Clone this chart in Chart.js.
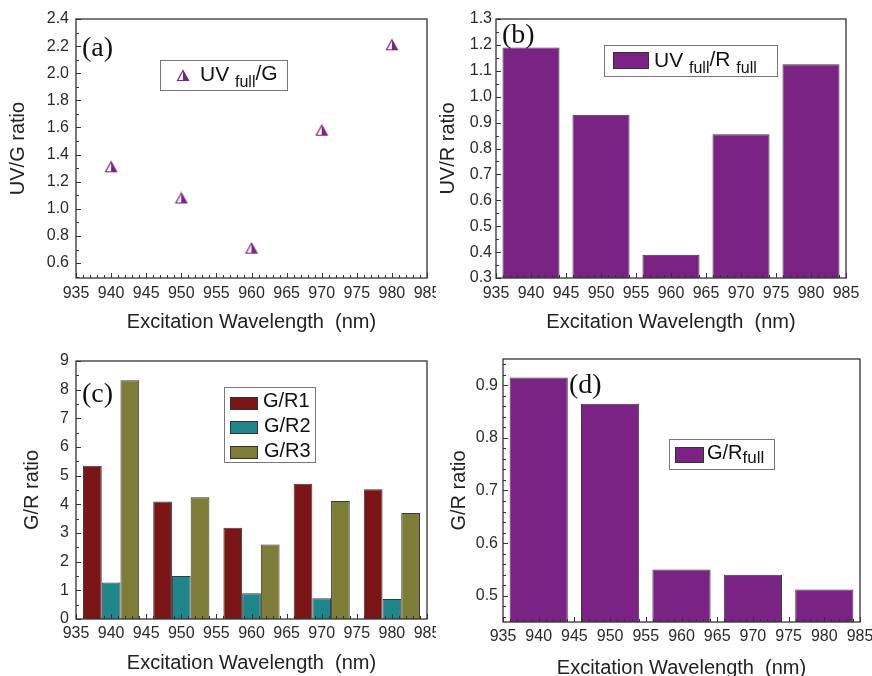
<!DOCTYPE html>
<html>
<head>
<meta charset="utf-8">
<script src="https://cdn.jsdelivr.net/npm/chart.js@4.4.1/dist/chart.umd.min.js"></script>
<style>
  html, body { margin: 0; padding: 0; background: #fff; overflow: hidden; }
  body { width: 872px; height: 676px; position: relative; }
  canvas { position: absolute; background: #fff; }
  #chartA { left: 0; top: 0; z-index: 1; }
  #chartB { left: 436px; top: 0; z-index: 2; }
  #chartC { left: 0; top: 340px; z-index: 1; }
  #chartD { left: 436px; top: 340px; z-index: 2; }
</style>
</head>
<body>
<canvas id="chartA" width="450" height="340"></canvas>
<canvas id="chartB" width="450" height="340"></canvas>
<canvas id="chartC" width="450" height="336"></canvas>
<canvas id="chartD" width="450" height="350"></canvas>
<script>
// values
const wavelengths = [940, 950, 960, 970, 980];
const xTickValues = [935, 940, 945, 950, 955, 960, 965, 970, 975, 980, 985];

const uvGRatio = [1.31, 1.08, 0.71, 1.58, 2.21];
const uvGTicks = [0.6, 0.8, 1.0, 1.2, 1.4, 1.6, 1.8, 2.0, 2.2, 2.4];

const uvRRatio = [1.19, 0.93, 0.39, 0.855, 1.125];
const uvRTicks = [0.3, 0.4, 0.5, 0.6, 0.7, 0.8, 0.9, 1.0, 1.1, 1.2, 1.3];

const gR1 = [5.35, 4.1, 3.18, 4.72, 4.53];
const gR2 = [1.27, 1.5, 0.9, 0.72, 0.7];
const gR3 = [8.33, 4.25, 2.6, 4.12, 3.7];
const gRTicks = [0, 1, 2, 3, 4, 5, 6, 7, 8, 9];

const gRFull = [0.915, 0.865, 0.55, 0.54, 0.512];
const gRFullTicks = [0.5, 0.6, 0.7, 0.8, 0.9];

const PURPLE = "#7a2385";
const DARK_RED = "#7b1517";
const TEAL = "#1f878b";
const OLIVE = "#7e7d38";
const TEXT = "#2a2a2a";
const SANS = "'Liberation Sans', Arial, sans-serif";
const SERIF = "'Liberation Serif', 'Times New Roman', serif";

function toPoints(values) {
  return wavelengths.map((w, i) => ({ x: w, y: values[i] }));
}

// half filled triangle marker
function makeTriangle() {
  const c = document.createElement("canvas");
  c.width = 14;
  c.height = 13;
  const g = c.getContext("2d");
  g.fillStyle = PURPLE;
  g.beginPath();
  g.moveTo(7, 1.5);
  g.lineTo(7, 11.5);
  g.lineTo(12.5, 11.5);
  g.closePath();
  g.fill();
  g.strokeStyle = PURPLE;
  g.lineWidth = 1.2;
  g.beginPath();
  g.moveTo(7, 1.5);
  g.lineTo(1.5, 11.5);
  g.lineTo(12.5, 11.5);
  g.closePath();
  g.stroke();
  return c;
}
const triangle = makeTriangle();

// frame, inward ticks, panel letter and boxed legend
const panelDecor = {
  id: "panelDecor",
  afterDraw(chart, args, opts) {
    const ctx = chart.ctx;
    const a = chart.chartArea;
    const xs = chart.scales.x;
    const ys = chart.scales.y;
    ctx.save();
    ctx.strokeStyle = "#333";
    ctx.lineWidth = 1;
    ctx.beginPath();
    drawTicks(xs, opts.xMinor, opts.xMajor, (p, len) => {
      ctx.moveTo(p, a.bottom);
      ctx.lineTo(p, a.bottom - len);
    });
    drawTicks(ys, opts.yMinor, opts.yMajor, (p, len) => {
      ctx.moveTo(a.left, p);
      ctx.lineTo(a.left + len, p);
    });
    ctx.stroke();

    ctx.lineWidth = 1.3;
    ctx.strokeRect(a.left, a.top, a.right - a.left, a.bottom - a.top);

    ctx.fillStyle = "#111";
    ctx.font = "28px " + SERIF;
    ctx.textBaseline = "alphabetic";
    ctx.fillText(opts.label, opts.labelX, opts.labelY);

    const lg = opts.legend;
    ctx.strokeStyle = "#777";
    ctx.lineWidth = 1;
    ctx.strokeRect(lg.box[0] + 0.5, lg.box[1] + 0.5, lg.box[2], lg.box[3]);
    lg.items.forEach((item) => {
      if (item.marker === "triangle") {
        ctx.drawImage(triangle, item.mx - 7, item.my - 6);
      } else {
        ctx.fillStyle = item.color;
        ctx.fillRect(item.swatch[0], item.swatch[1], item.swatch[2], item.swatch[3]);
        ctx.strokeStyle = "#333";
        ctx.strokeRect(item.swatch[0] + 0.5, item.swatch[1] + 0.5, item.swatch[2] - 1, item.swatch[3] - 1);
      }
      let x = item.tx;
      ctx.fillStyle = "#111";
      item.parts.forEach(([text, size, shift]) => {
        ctx.font = size + "px " + SANS;
        ctx.fillText(text, x, item.ty + shift);
        x += ctx.measureText(text).width;
      });
    });
    ctx.restore();
  },
};

function drawTicks(scale, minor, major, fn) {
  const start = Math.ceil(scale.min / minor - 1e-6);
  const end = Math.floor(scale.max / minor + 1e-6);
  for (let i = start; i <= end; i++) {
    const v = i * minor;
    const isMajor = Math.abs(v / major - Math.round(v / major)) < 1e-6;
    const p = Math.round(scale.getPixelForValue(v)) + 0.5;
    fn(p, isMajor ? 5 : 3);
  }
}

function xScale(height, pad, titlePad) {
  return {
    type: "linear",
    min: 935,
    max: 985,
    offset: false,
    afterBuildTicks: (s) => {
      s.ticks = xTickValues.map((v) => ({ value: v }));
    },
    afterFit: (s) => {
      s.height = height;
    },
    ticks: {
      font: { family: SANS, size: 16 },
      color: TEXT,
      padding: pad,
      maxRotation: 0,
      autoSkip: false,
    },
    grid: { display: false, drawTicks: false },
    border: { display: false },
    title: {
      display: true,
      text: "Excitation Wavelength  (nm)",
      font: { family: SANS, size: 20 },
      color: "#222",
      padding: { top: 0, bottom: titlePad },
    },
  };
}

function yScale(min, max, tickValues, digits, width, pad, title, titlePad) {
  return {
    type: "linear",
    min: min,
    max: max,
    afterBuildTicks: (s) => {
      s.ticks = tickValues.map((v) => ({ value: v }));
    },
    afterFit: (s) => {
      s.width = width;
    },
    ticks: {
      font: { family: SANS, size: 16 },
      color: TEXT,
      padding: pad,
      callback: (v) => Number(v).toFixed(digits),
    },
    grid: { display: false, drawTicks: false },
    border: { display: false },
    title: {
      display: true,
      text: title,
      font: { family: SANS, size: 20 },
      color: "#222",
      padding: { top: titlePad, bottom: 0 },
    },
  };
}

function baseOptions(padding, scales, decor) {
  return {
    responsive: false,
    animation: false,
    layout: { padding: padding },
    scales: scales,
    plugins: {
      legend: { display: false },
      tooltip: { enabled: false },
      panelDecor: decor,
    },
  };
}

Chart.register(panelDecor);

// the bar ruler also counts the 5 nm tick spacing, so widths are given relative to 5 nm
new Chart(document.getElementById("chartA"), {
  type: "scatter",
  data: {
    datasets: [
      {
        label: "UV full/G",
        data: toPoints(uvGRatio),
        pointStyle: triangle,
        showLine: false,
      },
    ],
  },
  options: baseOptions(
    { top: 19, right: 23, left: 0, bottom: 0 },
    {
      x: xScale(62, 6, 6),
      y: yScale(0.49, 2.4, uvGTicks, 1, 76, 7, "UV/G ratio", 6),
    },
    {
      label: "(a)", labelX: 82, labelY: 56,
      xMinor: 1, xMajor: 5, yMinor: 0.1, yMajor: 0.2,
      legend: {
        box: [160, 60, 127, 30],
        items: [
          {
            marker: "triangle", mx: 183, my: 75, tx: 200, ty: 81,
            parts: [["UV ", 21, 0], ["full", 16, 6], ["/G", 21, -1]],
          },
        ],
      },
    }
  ),
});

new Chart(document.getElementById("chartB"), {
  type: "bar",
  data: {
    datasets: [
      {
        label: "UV full/R full",
        data: toPoints(uvRRatio),
        backgroundColor: PURPLE,
        borderColor: "#3a3a3a",
        borderWidth: 1,
        barPercentage: 1.63,
        categoryPercentage: 1,
      },
    ],
  },
  options: baseOptions(
    { top: 19, right: 40, left: 0, bottom: 0 },
    {
      x: xScale(62, 6, 6),
      y: yScale(0.3, 1.3, uvRTicks, 1, 60, 4, "UV/R ratio", 0),
    },
    {
      label: "(b)", labelX: 66, labelY: 43,
      xMinor: 1, xMajor: 5, yMinor: 0.05, yMajor: 0.1,
      legend: {
        box: [168, 45, 173, 31],
        items: [
          {
            color: PURPLE, swatch: [177, 52, 36, 17], tx: 218, ty: 67,
            parts: [["UV ", 21, 0], ["full", 16, 6], ["/R ", 21, -1], ["full", 16, 6]],
          },
        ],
      },
    }
  ),
});

new Chart(document.getElementById("chartC"), {
  type: "bar",
  data: {
    datasets: [
      { label: "G/R1", data: toPoints(gR1), backgroundColor: DARK_RED },
      { label: "G/R2", data: toPoints(gR2), backgroundColor: TEAL },
      { label: "G/R3", data: toPoints(gR3), backgroundColor: OLIVE },
    ].map((d) => ({
      ...d,
      borderColor: "#3a3a3a",
      borderWidth: 1,
      barPercentage: 1,
      categoryPercentage: 1.6,
    })),
  },
  options: baseOptions(
    { top: 21, right: 23, left: 0, bottom: 0 },
    {
      x: xScale(57, 5, 1),
      y: yScale(0, 9, gRTicks, 0, 76, 7, "G/R ratio", 20),
    },
    {
      label: "(c)", labelX: 82, labelY: 62,
      xMinor: 1, xMajor: 5, yMinor: 0.5, yMajor: 1,
      legend: {
        box: [224, 47, 91, 75],
        items: [
          { color: DARK_RED, swatch: [230, 57, 28, 13], tx: 263, ty: 67, parts: [["G/R1", 20, 0]] },
          { color: TEAL, swatch: [230, 81, 28, 13], tx: 264, ty: 92, parts: [["G/R2", 20, 0]] },
          { color: OLIVE, swatch: [230, 106, 28, 13], tx: 264, ty: 117, parts: [["G/R3", 20, 0]] },
        ],
      },
    }
  ),
});

new Chart(document.getElementById("chartD"), {
  type: "bar",
  data: {
    datasets: [
      {
        label: "G/R full",
        data: toPoints(gRFull),
        backgroundColor: PURPLE,
        borderColor: "#3a3a3a",
        borderWidth: 1,
        barPercentage: 1.63,
        categoryPercentage: 1,
      },
    ],
  },
  options: baseOptions(
    { top: 19, right: 26, left: 0, bottom: 0 },
    {
      x: xScale(68, 5, 10),
      y: yScale(0.45, 0.95, gRFullTicks, 1, 67, 5, "G/R ratio", 11),
    },
    {
      label: "(d)", labelX: 133, labelY: 53,
      xMinor: 1, xMajor: 5, yMinor: 0.02, yMajor: 0.1,
      legend: {
        box: [233, 99, 105, 30],
        items: [
          {
            color: PURPLE, swatch: [239, 107, 29, 16], tx: 271, ty: 119,
            parts: [["G/R", 20, 0], ["full", 17, 4]],
          },
        ],
      },
    }
  ),
});
</script>
</body>
</html>
